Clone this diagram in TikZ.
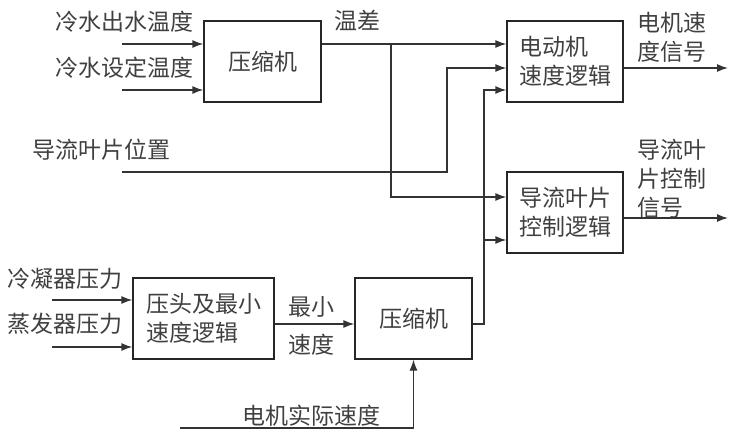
\documentclass[tikz,border=0pt]{standalone}
\usepackage{fontspec}
\setmainfont{Noto Sans CJK SC}
\usetikzlibrary{arrows.meta}

\begin{document}
\begin{tikzpicture}[x=1pt, y=-1pt, >={Latex[length=11pt,width=8pt]},
    blk/.style={draw=black!85, line width=1.3pt, minimum height=81pt, align=left,
        inner sep=0pt, text=black!75, font=\fontsize{23}{29}\selectfont},
    lbl/.style={inner sep=0pt, align=left, text=black!75, font=\fontsize{23}{29}\selectfont},
    sig/.style={->, line width=1.3pt, draw=black!80}]
    \useasboundingbox (0,0) rectangle (743,433);

    \node[blk, minimum width=117pt] (comp1) at (262.5,61.5) {压缩机};
    \node[blk, minimum width=116pt] (motor) at (565,61.5) {电动机\\速度逻辑};
    \node[blk, minimum width=116pt] (vane) at (565,212.5) {导流叶片\\控制逻辑};
    \node[blk, minimum width=141pt] (head) at (203.5,318.5) {压头及最小\\速度逻辑};
    \node[blk, minimum width=117pt] (comp2) at (413.5,318.5) {压缩机};

    \node[lbl] (tout) at (124,22) {冷水出水温度};
    \node[lbl] (tset) at (124,68) {冷水设定温度};
    \node[lbl] (tdiff) at (357,21) {温差};
    \node[lbl] (vpos) at (101,150) {导流叶片位置};
    \node[lbl] (mspd) at (672,37) {电机速\\度信号};
    \node[lbl] (vsig) at (672,179) {导流叶\\片控制\\信号};
    \node[lbl] (pcond) at (65,279) {冷凝器压力};
    \node[lbl] (pevap) at (65,324) {蒸发器压力};
    \node[lbl] (minspd) at (311,326) {最小\\[9pt]速度};
    \node[lbl] (aspd) at (311,416) {电机实际速度};

    \coordinate (in1) at (122,44);
    \coordinate (in2) at (122,90);
    \coordinate (in3) at (122,172);
    \coordinate (in4) at (52,300);
    \coordinate (in5) at (52,347);
    \coordinate (in6) at (180,428);
    \coordinate (out1) at (728,68);
    \coordinate (out2) at (728,218);
    \coordinate (tsplit) at (391,44);
    \coordinate (vbend) at (447,68);
    \coordinate (cbend) at (484,90);
    \coordinate (csplit) at (484,240);

    \draw[sig] (in1) -- (comp1.west |- in1);
    \draw[sig] (in2) -- (comp1.west |- in2);
    \draw[sig] (comp1.east |- in1) -- (motor.west |- in1);
    \draw[sig] (tsplit) |- (vane.west |- 0,197);
    \draw[sig] (in3) -| (vbend) -- (motor.west |- vbend);
    \draw[sig] (comp2.east |- 0,324) -| (cbend) -- (motor.west |- cbend);
    \draw[sig] (csplit) -- (vane.west |- csplit);
    \draw[sig] (motor.east |- out1) -- (out1);
    \draw[sig] (vane.east |- out2) -- (out2);

    \draw[sig] (in4) -- (head.west |- in4);
    \draw[sig] (in5) -- (head.west |- in5);
    \draw[sig] (head.east |- 0,324) -- (comp2.west |- 0,324);
    \draw[sig] (in6) -| (comp2.south);
\end{tikzpicture}
\end{document}
